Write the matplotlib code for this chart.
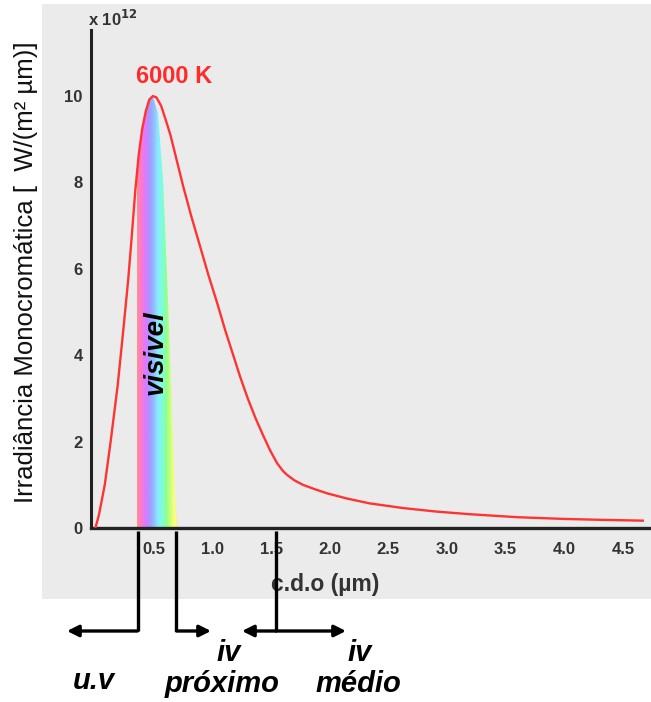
import numpy as np
import matplotlib
matplotlib.use("Agg")
import matplotlib.pyplot as plt
from matplotlib.patches import Rectangle, Polygon, FancyArrowPatch
from matplotlib.colors import LinearSegmentedColormap

# ---- data ----
wavelength = [0.0, 0.03, 0.08, 0.13, 0.19, 0.235, 0.28, 0.31, 0.34, 0.37, 0.40,
              0.43, 0.46, 0.49, 0.52, 0.56, 0.60, 0.64, 0.695, 0.75, 0.82, 0.89,
              0.965, 1.04, 1.105, 1.17, 1.235, 1.30, 1.365, 1.43, 1.49, 1.55,
              1.60, 1.635, 1.70, 1.77, 1.87, 1.98, 2.15, 2.34, 2.63, 2.91, 3.19,
              3.60, 4.00, 4.30, 4.67]
irradiance = [0.0, 0.3, 1.0, 2.0, 3.3, 4.5, 5.75, 6.75, 7.8, 8.65, 9.25,
              9.65, 9.92, 10.0, 9.97, 9.78, 9.45, 9.1, 8.5, 7.9, 7.2, 6.55,
              5.85, 5.2, 4.6, 4.05, 3.5, 3.0, 2.55, 2.15, 1.8, 1.5,
              1.32, 1.23, 1.1, 1.0, 0.9, 0.8, 0.68, 0.57, 0.46, 0.38, 0.32,
              0.25, 0.21, 0.19, 0.17]
# visible band right edge
band_right_x = [0.705, 0.68, 0.62, 0.577, 0.534, 0.49]
band_right_y = [0.0, 0.65, 5.28, 8.06, 9.6, 10.0]
band_left = 0.355
xticks = [0.5, 1.0, 1.5, 2.0, 2.5, 3.0, 3.5, 4.0, 4.5]
xtick_labels = ["0.5", "1.0", "1.5", "2.0", "2.5", "3.0", "3.5", "4.0", "4.5"]
yticks = [0, 2, 4, 6, 8, 10]
ytick_labels = ["0", "2", "4", "6", "8", "10"]
band_colors = ['#ff9090', '#ff78cc', '#e078ff', '#a498ff', '#94bcff', '#88ecff',
               '#7affdc', '#90ff90', '#ccff78', '#ffff78', '#ffd4b4']

W, H = 651, 702
fig = plt.figure(figsize=(W / 100, H / 100), dpi=100)
fig.patch.set_facecolor('white')

def fx(px):
    return px / W

def fy(py):
    return 1 - py / H

# grey background
fig.patches.append(Rectangle((fx(42), fy(599)), fx(651) - fx(42), fy(4) - fy(599),
                             transform=fig.transFigure, facecolor='#ebebeb',
                             edgecolor='none', zorder=-10))

ax = fig.add_axes([fx(91), fy(528), fx(651) - fx(91), fy(30) - fy(528)])
ax.set_zorder(1)
ax.set_facecolor('none')
ax.set_xlim(-0.0375, 4.74)
ax.set_ylim(0, 11.53)

# visible band
cx = np.array(wavelength)
cy = np.array(irradiance)
mask = (cx > band_left) & (cx <= 0.49)
left_top = np.interp(band_left, cx, cy)
poly = [(band_left, 0), (band_left, left_top)]
poly += list(zip(cx[mask], cy[mask]))
poly += list(zip(band_right_x[::-1], band_right_y[::-1]))
poly += [(band_right_x[0], 0)]
clip = Polygon(poly, closed=True, transform=ax.transData, facecolor='none', edgecolor='none')
ax.add_patch(clip)
cmap = LinearSegmentedColormap.from_list('vis', band_colors)
grad = np.linspace(0, 1, 256).reshape(1, -1)
im = ax.imshow(grad, cmap=cmap, extent=[band_left, band_right_x[0], 0, 10.05],
               aspect='auto', zorder=1, interpolation='bilinear')
im.set_clip_path(clip)

ax.plot(wavelength, irradiance, color='#ff3333', lw=1.7, zorder=3,
        solid_joinstyle='round', antialiased=True)

for s in ['top', 'right']:
    ax.spines[s].set_visible(False)
ax.spines['left'].set_linewidth(2.2)
ax.spines['bottom'].set_linewidth(2.4)
ax.spines['left'].set_color('#222222')
ax.spines['bottom'].set_color('#222222')

ax.set_xticks(xticks)
ax.set_xticklabels(xtick_labels)
ax.set_yticks(yticks)
ax.set_yticklabels(ytick_labels)
ax.tick_params(length=0, labelsize=12, labelcolor='#333333', pad=10)
ax.tick_params(axis='y', pad=6)
for lbl in ax.get_xticklabels() + ax.get_yticklabels():
    lbl.set_fontweight('bold')
    lbl.set_family('Liberation Sans')

ax.text(0.515, 4.05, 'visivel', rotation=90, ha='center', va='center',
        fontsize=20, fontweight='bold', style='italic', family='Liberation Sans', zorder=4)
ax.text(0.67, 10.46, '6000 K', ha='center', va='center', color='#ff2a2a',
        fontsize=17, fontweight='bold', family='Liberation Sans', zorder=4)

fig.text(fx(88), fy(19), r'x 10$^{\mathbf{12}}$', ha='left', va='center', fontsize=12,
         fontweight='bold', color='#333333', family='Liberation Sans')
fig.text(fx(26), fy(272), 'Irradiância Monocromática [  W/(m² µm)]', rotation=90,
         ha='center', va='center', fontsize=18.5, family='Liberation Sans', color='#111111')
fig.text(fx(325), fy(584), 'c.d.o (µm)', ha='center', va='center', fontsize=16.5,
         fontweight='bold', color='#333333', family='Liberation Sans')

# arrows / guide lines
lw = 2.4
for xv in [137.5, 176.5, 276]:
    fig.add_artist(plt.Line2D([fx(xv), fx(xv)], [fy(531), fy(631)], transform=fig.transFigure,
                              color='black', lw=lw, solid_capstyle='butt', zorder=5))
arrows = [((137.5, 631), (67, 631)), ((176.5, 631), (211, 631)),
          ((276, 631), (242, 631)), ((276, 631), (346, 631))]
for (x0, y0), (x1, y1) in arrows:
    a = FancyArrowPatch((fx(x0), fy(y0)), (fx(x1), fy(y1)), transform=fig.transFigure,
                        arrowstyle='-|>', mutation_scale=17, color='black', lw=lw,
                        shrinkA=0, shrinkB=0, zorder=5)
    fig.add_artist(a)

tkw = dict(ha='center', va='center', fontsize=21, fontweight='bold', style='italic',
           family='Liberation Sans', color='black')
fig.text(fx(229), fy(653), 'iv', **tkw)
fig.text(fx(360), fy(653), 'iv', **tkw)
fig.text(fx(94), fy(681), 'u.v', **tkw)
fig.text(fx(222), fy(684), 'próximo', **tkw)
fig.text(fx(358), fy(684), 'médio', **tkw)

fig.savefig('out.png', dpi=100, facecolor='white')
